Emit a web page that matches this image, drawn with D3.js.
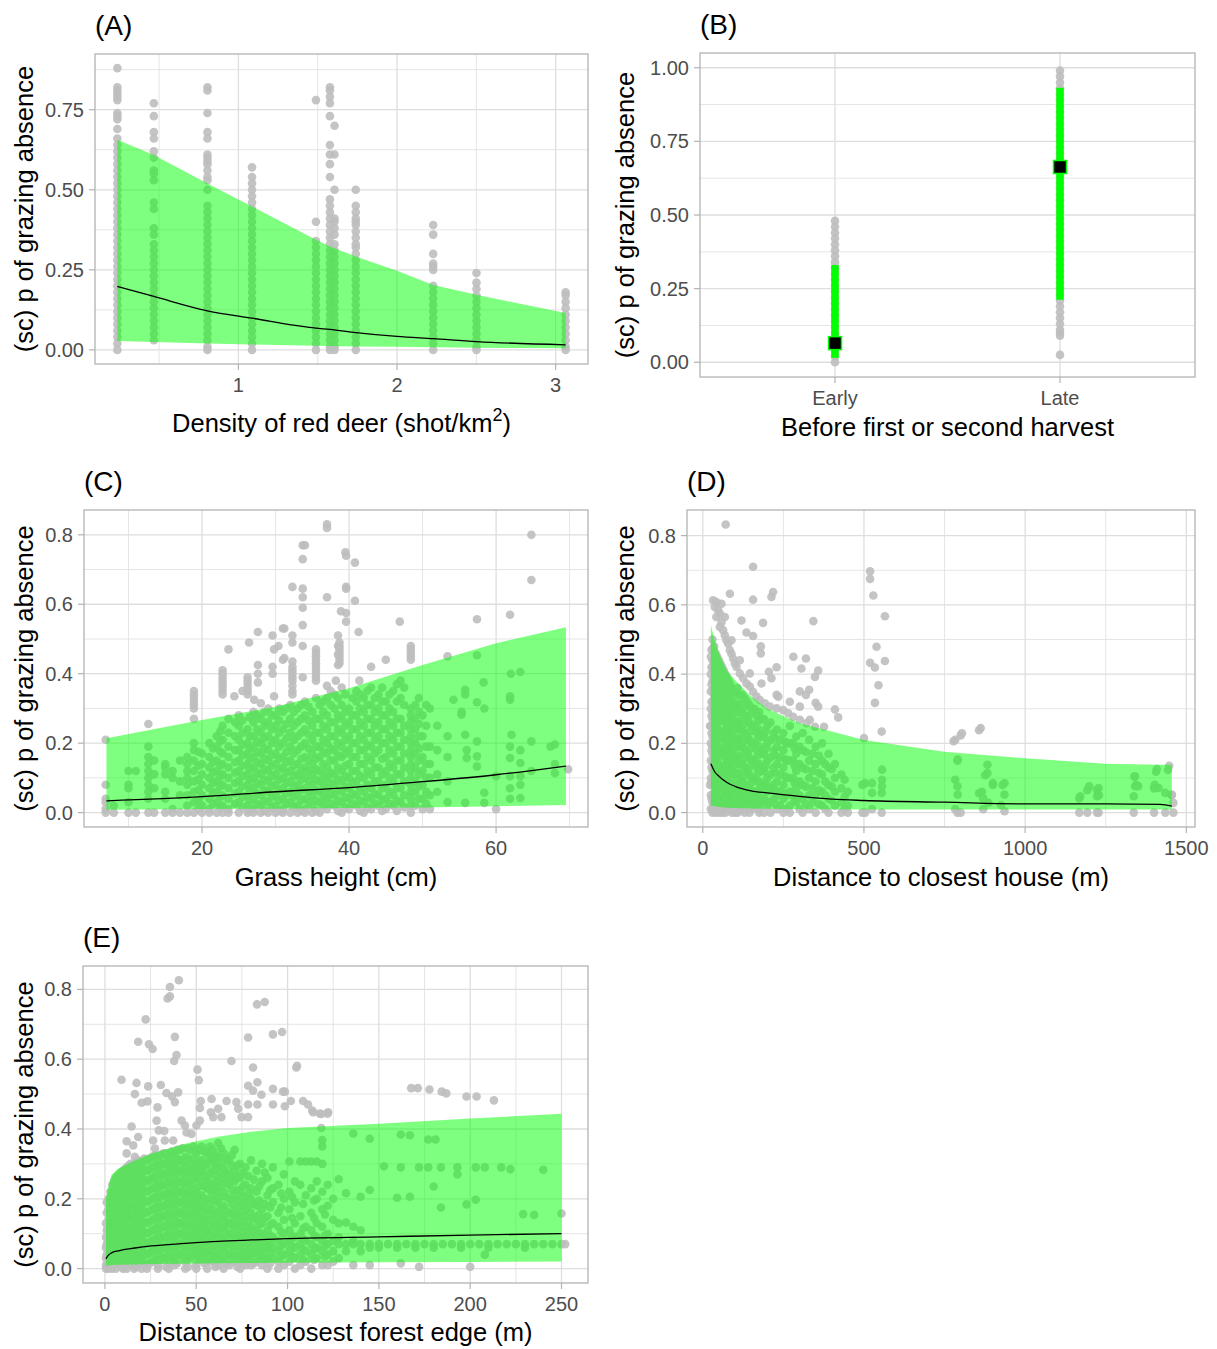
<!DOCTYPE html>
<html>
<head>
<meta charset="utf-8">
<script src="https://cdn.jsdelivr.net/npm/d3@7/dist/d3.min.js"></script>
<style>
  body { margin: 0; background: #fff; }
  svg { display: block; font-family: "Liberation Sans", Arial, sans-serif; }
</style>
</head>
<body>
<svg id="chart" width="1217" height="1349"></svg>
<script>
// ---- data (x : y-values in %, one token per x position) ----

// (A) density of red deer
const deerPts = "0.237:88,82,81,80,79,78,74,73,72,69,66,64,62,60,58,56,54,52,50,48,46,44,42,40,38,36,34,32,30,28,26,24,22,20,18,16,14,12,10,8,6,4,2,0 0.467:77,73,68,66,62,60,56,55,53,46,44,38,36,33,31,29,27,25,23,21,19,17,15,13,11,9,7,5,3 0.805:82,81,74,68,66,61,60,59,58,56,54,53,50,45,43,41,39,37,35,33,31,29,27,25,23,21,19,17,15,13,11,9,7,5,3,1,0 1.086:57,54,52,50,48,46,44,42,40,38,36,34,32,30,28,26,24,22,20,18,16,14,12,10,8,6,4,2,0 1.489:78,40,34,32,30,28,26,24,22,20,18,16,14,12,10,8,6,4,2,0 1.577:82,81,79,77,73,64,61,58,54,47,45,43,41,39,37,35,33,31,29,27,25,23,21,19,17,15,13,11,9,7,5,3,1,0 1.606:70,61,50,41,40,38,36,33,31,29,27,25,23,21,19,17,15,13,11,9,7,5,3,1,0 1.74:50,45,43,41,40,39,37,35,33,32,30,28,26,24,22,20,18,16,14,12,10,8,6,4,2,0 2.228:39,36,30,27,26,25,20,18,16,14,12,10,8,6,4,2,0 2.501:24,21,19,17,15,13,11,9,7,5,3,1,0 3.063:18,17,15,13,11,9,7,5,3,1,0";
const deerX   = [0.237, 0.467, 0.805, 1.086, 1.489, 1.577, 1.74, 2.0, 2.228, 2.501, 3.063];
const deerFit = [0.198, 0.167, 0.122, 0.099, 0.068, 0.064, 0.054, 0.042, 0.035, 0.026, 0.016];
const deerLo  = [0.028, 0.025, 0.020, 0.017, 0.013, 0.012, 0.011, 0.010, 0.008, 0.007, 0.005];
const deerHi  = [0.656, 0.609, 0.520, 0.448, 0.344, 0.323, 0.292, 0.247, 0.203, 0.172, 0.115];

// (B) before first or second harvest
const harvestCats = ["Early", "Late"];
const harvestPts = "Early:0,2,4,6,8,10,12,14,16,18,20,22,24,26,28,30,32,34,36,38,40,42,44,46,48 Late:2.5,9,10,11,13,15,17,19,21,23,25,27,29,31,33,35,37,39,41,43,45,47,49,51,53,55,57,59,61,63,65,67,69,71,73,75,77,79,81,83,85,87,89,91,93,95,97,99";
const harvestFit = [0.065, 0.663];
const harvestLo  = [0.015, 0.212];
const harvestHi  = [0.330, 0.932];

// (C) grass height
const grassPts = "6.9:21,8,4,3,1,0 8:2,0 10:12,8,7,3,0 11:12,0 12.7:25.5,19,16,14,12,10,8,6,4,0 13.5:15,11,7,0 15:14,13,11,6,4,0 16:12,10,1,0 17:15,9,5,0 18:16,14,12,10,8,5,2,0 18.9:35,34,33,32,31,30,27,20,18,15,12,9,6,3,0 20:17,14,11,8,5,2,0 21:20,16,13,10,7,4,1,0 22:22,19,15,12,9,6,3,0 22.8:41,40,39,38,37,36,35,34,25,21,17,14,11,8,5,2,0 23.6:47,27,23,19,16,13,10,7,4,1,0 24.4:33.5 25:28,25,21,18,15,12,9,6,3,0 25.5:35 26.2:39,38,37,36,35,34,24,20,17,14,11,8,5,2,0 26.4:49 27:29,26,22,19,16,13,10,7,4,1,0 27.6:52,42.5,40,37.5 27.1:32.5 28:31.5,27,23,20,17,14,11,8,5,2,0 29:30,26,22,18,15,12,9,6,3,0 29.6:51,42,40 29.8:47,33.5 30:28,25,21,17,14,11,8,5,2,0 30.4:48 31:53,44,29,24,20,16,13,10,7,4,1,0 31.2:53,44.5 32:31,27,23,19,15,12,9,6,3,0 32.3:65,51,49,43.5,42,41,40,39,38,36.5,35,34 33:30,26,22,18,14,11,8,5,2,0 33.7:77,73,64.5,62,59,54,48,39 34:77,32,28,24,20,16,13,10,7,4,1,0 35:29,25,21,17,14,11,8,5,2,0 35.5:47,46,45,44,43,42,41,40,39,38 36:31,27,23,19,16,12,9,6,3,0 37:83,82,62,36.5,33,28,24,20,17,13,10,7,4,1 38:34,30,26,22,18,15,11,8,5,2 38.2:38 38.5:51,48,45.5,42.5 38.7:49,48,47,46,45,44,43 38.9:58 39:36,31,27,23,19,16,12,9,6,3,0 39.5:75 39.6:74,65,64.5,57.5,55 40:30,26,22,18,14,10,7,4,1 40.8:72,61 41:35,32,28,24,20,16,12,9,5,2 41.3:52 41.4:38 42:33,29,25,21,18,14,10,6,3,0 43:42,36,31,27,23,19,15,11,7,4,1 44:34,30,26,22,18,13,9,5,2 45:44,32,28,24,20,16,12,8,4,1 46:35,29,25,21,17,13,9,5,2 46.9:55 47:38,33,27,23,19,15,11,7,3 48.4:48,47,46,45,44,30,28,26,24,22,20,18,16,14,12,10,8,6,4,2,0 49:31,27,24,20,17,13,9,6,2 50:28,22,16,12,8,4,1 51:30,19,14,10,5,1 52:25,18,11,6 53.4:45,22,16,9,3 54.2:32.5 55.3:28.2,29 55.8:35.4,34,22.4,2.8 56:18,15.7 57.4:55.7,45.3,31.8,20.5,16.2,13.3 58.3:37.5 58.4:30,5.7,2.8 60:10.5,1 61.9:57,33.5,32.5,19,15.7,10.5,7,4 62:40 62.1:22.4 63.3:40.5,18,14.3,10.5,8,4.2 64.8:80,67,20.5,12 67.4:19 68:19.6,14,11.4 69.8:12.5 " +
  "19.5:17.5,13.5,9.5,6.5,3.5,1 21.5:18.5,14.5,11.5,8.5,5.5,2.5 22.5:23.5,20.5,17.5,13.5,10.5,7.5,4.5,1.5 24.5:26,22,18,14.5,11.5,8.5,5.5,2.5 25.5:26.5,23,19.5,16.5,13.5,10.5,7.5,4.5,1.5 26.5:27.5,22,18.5,15.5,12.5,9.5,6.5,3.5,0.5 27.5:28,24,20.5,17.5,14.5,11.5,8.5,5.5,2.5 28.5:29,25,21.5,18.5,15.5,12.5,9.5,6.5,3.5,0.5 29.5:28,24,20,16.5,13.5,10.5,7.5,4.5,1.5 30.5:30,26.5,23,19,15.5,12.5,9.5,6.5,3.5,0.5 31.5:30,25.5,21.5,17.5,14.5,11.5,8.5,5.5,2.5 32.5:29,25,21,17,13.5,10.5,7.5,4.5,1.5 33.5:31,27,23,19,15.5,12,9.5,6.5,3.5,0.5 34.5:30.5,26.5,22.5,18.5,15,12,9,6,3 35.5:33,27,23,19,15.5,12.5,9.5,6.5,3.5,0.5 36.5:32,29,25,21,17.5,14,11,8,5,2 37.5:35,31,26,22,18.5,15,11.5,8.5,5.5,2.5 38.5:33,28,24,20,16.5,13,9.5,6.5,3.5,0.5 39.5:34,29,25,21,17,13.5,10.5,7.5,4.5,1.5 40.5:33,28,24,20,16,12,8.5,5.5,2.5 41.5:34,30,26,22,18,14,10.5,7,3.5,0.5 42.5:35,31,27,23,19.5,16,12,8,4.5,1.5 43.5:33,29,25,21,17,13,9,5.5,2.5 44.5:36,32,28,24,20,15.5,11,7,3.5,0.5 45.5:34,30,26,22,18,14,10,6,2.5 46.5:37,32,27,23,19,15,11,7,3.5,0.5 47.5:36,31,25,21,17,13,9,5,1.5 49.5:33,29,25.5,22,18.5,15,11,7.5,4 50.5:31,25,19,14,10,6,2.5";
const grassX   = [7, 20, 30, 40, 50, 60, 69.5];
const grassFit = [0.034, 0.046, 0.060, 0.072, 0.089, 0.109, 0.134];
const grassLo  = [0.008, 0.010, 0.011, 0.013, 0.015, 0.018, 0.022];
const grassHi  = [0.214, 0.267, 0.305, 0.358, 0.425, 0.488, 0.534];

// (D) distance to closest house
const housePts = "22.6:25,8 25:45,40,35,30,25,20,15,10,5,1 30:50,44,38,32,27,22,17,12,8,3,0 32:61.3 37:59.4 40:46,41,36,31,26,21,16,11,6,2,0 42:60.8,56.5 47.6:58.4 50:44,39,34,29,24,19,14,9,4,0 52.8:57.5,53.6 58:55,60.3 60:42,37,32,28,23,18,13,8,3,0 63:52.7 68.3:51.2,56.5 70:40,35,30,26,21,16,11,6,2,0 71:83.2 73.5:49.8 78.7:48.8 80:38,33,28,24,19,14,9,5,1 84:63.2,46.9 89:45.9,49.8 90:36,31,27,22,17,12,7,3,0 94:44.5 99.4:43.1 100:35,30,25,20,15,11,6,2,0 104.6:42.1 115:40.2,44,34,29,24,19,14,9,5,1 120:55.5 125:38.8 130:33,28,23,18,13,8,4,0 135.6:37.3,52 145:31,26,21,16,11,7,3,0 146:36.4,40.2 156:71,61.5,34.9,51 160:30,25,20,15,10,6,2 166.7:33.5 175:29,24,19,14,9,5,1,0 177:32.5 180:48,46 182:37.3 187:54.8 190:27,22,17,12,8,4,0 192.5:31.6 205:40.7 208:30.6 210:26,21,16,11,7,3,0 213:62.3,38.8 218:63.7 229:42,30.1,34 230:24,19,14,9,5,1 234:33.5 249.5:29.6 250:23,18,13,8,4,0 265:28.7 270:25,20,15,10,6,2,0,32 280.5:27.7 281:45 290:22,17,12,7,3 301:26.8,30.6,35 306:41.6 310:23,18,13,8,4,0 320:44.5,34 322:25.8 330:21,15,10,5,1,35.5 332:26.8 343:55.3 348:24.8,39.2 350:19,14,9,5,0,31.7 358:41,30.6 370:20,15,11,6,2 376:24.8 390:17,13,8,4,0 410:14,10,6,2,29.8 420:27.5 430:11,7,3,0 450:6,2,0 495:8,0 500:21.5 504:8.5,0 519:69.7,67.5,43.3 525:8.5,5.7,1 529:62.7 534:41.9,31.7 539:47.9 545:36.8 555:23.4,5.7,0 556:12.4,9.5,7.6 565:56.7,43.8 778:20.6 783:21,9.5,1 790:15,7.6,0 791:15.4,5.2 800:22.3,0 804:22.9 857:23.8,5.6 862:24.4 866:6 870:4.1,1 876:10.8 883:13.8,11.4 886:2.8 900:8.5,8 925:2.2 930:8 936:8.5,5.2,0.4 1168:4.1,0 1171:4.7 1193:6.5,0 1199:7.6 1223:6.5,4.7,0 1228:7.1,0 1229:5 1337:4.7,0 1339:10.4 1341:10.5,7.6 1345:8 1351:7.6 1400:7,0 1402:8 1406:11.8 1409:12.6 1414:7.1 1435:5.7,0 1443:12.3 1447:13.5 1455:5,5.2 1460:2.8,0 " +
  "27:47,42,37,32,28,23,18,13,9,4 35:48,43,39,34,29,24,19,14,10,5,1 45:45,40,36,31,26,21,16,12,7,2 55:43,38,33,28,23,18,13,8,4,1 65:41,36,31,27,22,17,12,7,3 75:39,34,29,25,20,15,10,6,2 85:37,32,28,23,18,13,8,4,1 95:35,31,26,21,16,11,7,3 108:36,31,26,21,16,11,7,3,0 122:34,29,24,19,14,9,5,1 138:32,27,22,17,12,7,3 152:30,25,20,15,10,6,1 168:28,23,18,13,9,4 183:27,22,17,12,7,3 200:25,20,15,10,6,2 220:23,18,13,8,4 240:21,16,11,6,2 260:20,15,10,5,1 280:20,15,10,5 300:19,14,9,5,1 340:17,12,7,3 380:14,9,5,1 " +
  "33:47.5,41.5,35.5,29.5,24.5,19.5,14.5,9.5,5.5,1.5 43:44.5,38.5,33.5,28.5,23.5,18.5,13.5,8.5,3.5 53:41.5,36.5,31.5,26.5,21.5,16.5,11.5,6.5,1.5 67:38.5,33.5,28.5,23.5,18.5,13.5,8.5,4.5 82:36.5,30.5,25.5,21.5,16.5,11.5,6.5,2.5 97:33.5,28.5,23.5,18.5,13.5,8.5,4.5,0.5 112:31.5,26.5,21.5,16.5,11.5,6.5,2.5 128:30.5,25.5,20.5,15.5,10.5,5.5,1.5 148:28.5,23.5,18.5,13.5,8.5,4.5 172:26.5,21.5,16.5,11.5,6.5,2.5 195:23.5,18.5,13.5,8.5,3.5 225:21.5,16.5,11.5,6.5,2.5 255:20.5,15.5,10.5,5.5 285:18.5,13.5,8.5,3.5 320:17.5,12.5,7.5,2.5 360:16.5,11.5,6.5,2.5 400:12.5,7.5,3.5 440:9.5,4.5,1";
const houseX   = [25, 37, 50, 75, 100, 150, 200, 300, 400, 500, 750, 1000, 1250, 1420, 1455];
const houseFit = [0.141, 0.118, 0.105, 0.087, 0.076, 0.063, 0.057, 0.047, 0.039, 0.035, 0.030, 0.025, 0.025, 0.024, 0.019];
const houseLo  = [0.020, 0.018, 0.016, 0.014, 0.013, 0.012, 0.011, 0.010, 0.010, 0.009, 0.009, 0.009, 0.009, 0.009, 0.009];
const houseHi  = [0.541, 0.498, 0.460, 0.410, 0.383, 0.335, 0.300, 0.258, 0.234, 0.210, 0.176, 0.157, 0.141, 0.138, 0.138];

// (E) distance to closest forest edge
const forestPts = "0.6:13,9,6,3,1,0 2:20,17,14,11,8,5,2,0 4:24,21,18,15,12,9,6,3,0 6:26,23,20,17,14,11,8,5,2,0 8:27,24,21,18,15,12,9,6,3,1 9.1:54.1 10:28,25,22,19,16,13,10,7,4,1,0 11.9:36.5,33 12:29,26,23,20,17,14,11,8,5,2,0 14:30,27,24,21,18,15,12,9,6,3,1 14.6:40.7 15.5:35.3 16:29,26,23,20,17,14,11,8,5,2,0 16.4:50,32 17.3:53.2 18:31,28,25,22,19,16,13,10,7,4,1 18.2:65,37.7 20:30,27,24,21,18,15,12,9,6,3,0 20.1:47.5 22.3:71.4 23:31,28,25,22,19,16,13,10,7,4,1,0 23.3:47.9 23.7:52.2 24.1:64.3 26:32,29,26,23,20,17,14,11,8,5,2 26.1:62.9 26.4:36.7 27.4:34.4 28.3:42.4 28.8:46.2 29:31,28,25,22,19,16,13,10,7,4,1,0 29.5:39.6 30.6:52.6 32:33,30,27,24,21,18,15,12,9,6,3 32.5:39.4 32.8:36.7 33.7:50.3 34.3:77.4 35:32,29,26,23,20,17,14,11,8,5,2,0 35.6:80.7,78 36.8:49.3 37.4:36.7 37.9:59.5 38:33,30,27,24,21,18,15,12,9,6,3,1 38.3:66.4,47.7 39.2:61.2 40.1:50.5 40.5:82.6 41:34,31,28,25,22,19,16,13,10,7,4 42:42.4 43.8:41 44:32,29,26,23,20,17,14,11,8,5,2,0 44.7:39 47:34,30,27,24,21,18,15,12,9,6,3 47.4:38.6 50:33,29,26,22,19,16,13,10,7,4,1,0 50.1:41 50.7:57 51.4:54 52:42.4,46 52.5:48 53:35,31,28,25,21,18,15,12,9,6,3 56:33,30,26,23,20,17,14,11,8,5,2,0 58:44.8 58.4:48.6 59:34,31,28,24,21,17,14,11,8,5,2 59.3:43.4 62:36,32,29,25,22,19,16,13,10,7,4,1,45.8 63.8:43.4 65:33,29,26,22,18,15,12,9,6,3,0 66.6:48 68:31,27,24,20,16,13,10,7,4,1 69.3:59.5 71:34,28,25,21,17,14,11,8,5,2 72:47.7 73:45.8 74:30,26,22,18,15,12,9,6,3,0 74.8:43.4 77:29,24,19,15,12,9,6,3,1 78.4:66.2,52.4,47,43.4 80:31,23,20,16,12,9,6,4,1 81.1:57.6,51 83:28,22,18,14,11,8,5,2 83.3:75.7 83.5:53.4,47 85.7:49.8 86:30,25,17,13,10,7,4,1 87.5:76.4 89:26,21,15,11,8,6,3,0 92:67.1,51.5,47,29,23,19,13,9,6,3 95:24,16,12,8,5,2,0 97:67.8 97.5:50.7 98:27,20,14,10,7,4,1 98.5:50.7,46.5 101:30.7,22,17,11,8,5,2 101.8:48 104:25,19,13,9,6,3,0 104.8:57.6 105.2:58.1 107:30.7,24,15,10,7,4,1 108.5:48 110:30.7,21,12,8,5,2 111.2:47 113:30.7,23,16,11,7,4,0 113.5:45.3 114:44.8 116:30.7,25,20,13,9,6,3 117.7:44.4 118.5:44.3,40.3 119:36.8,35,30,22,17,12,8,5,1 121.9:44.4 122:24,18,10,7,4,1 122.2:44.8 125:20,14,8,5,2 128:25.6,13,9,7,3 132:21.6,13.2,7,5 136:38.7,12,8,7,1 140:20.6,11,7,5 145:37.2,22.5,7,6,1 150:7,6 152.8:29.3 155:7 160:7,6,20.3 162:38.4,29,1.5 165:7 167:38.2,20.6 167.7:51.7 170:7,6 171.3:51.7 172:29,0.5 175:7 177:37,29 177.7:51.3 180:7,6,23.5 181:37 184:29,17.5 184.4:50.7 185:7 186.9:50.2 190:7 193:29,27 195:7,6 198:18.4,49.3 200:7,0.5 203:29,19.7 203.5:49.3 205:7 208:29,4 210:7,6 213:48.2 215:7 217:29 220:7 222:28.5 225:7 229:15.6 230:7,6 235:7,15.4 240:7,28.3 245:7 250:7,15.8 252:7 " +
  "1:19,16,11,7,4 3:22,19,16,13,10,7,4,1 5:25,22,19,16,13,10,7,4,1 7:26.5,23.5,20.5,17.5,14.5,11.5,8.5,5.5,2.5 9:27.5,24.5,21.5,18.5,15.5,12.5,9.5,6.5,3.5,0.5 11:28.5,25.5,22.5,19.5,16.5,13.5,10.5,7.5,4.5,1.5 13:29.5,26.5,23.5,20.5,17.5,14.5,11.5,8.5,5.5,2.5 15:29.5,26.5,23.5,20.5,17.5,14.5,11.5,8.5,5.5,2.5 17:30.5,27.5,24.5,21.5,18.5,15.5,12.5,9.5,6.5,3.5,0.5 19:30.5,27.5,24.5,21.5,18.5,15.5,12.5,9.5,6.5,3.5 21.5:31.5,28.5,25.5,22.5,19.5,16.5,13.5,10.5,7.5,4.5,1.5 24.5:31.5,28.5,25.5,22.5,19.5,16.5,13.5,10.5,7.5,4.5,1.5 27.5:32.5,29.5,26.5,23.5,20.5,17.5,14.5,11.5,8.5,5.5,2.5 30.5:32.5,29.5,26.5,23.5,20.5,17.5,14.5,11.5,8.5,5.5,2.5 33.5:33,30.5,27.5,24.5,21.5,18.5,15.5,12.5,9.5,6.5,3.5,0.5 36.5:33.5,30.5,27.5,24.5,21.5,18.5,15.5,12.5,9.5,6.5,3.5 39.5:34,31.5,28.5,25.5,22.5,19.5,16.5,13.5,10.5,7.5,4.5,1.5 42.5:34.5,30.5,27.5,24.5,21.5,18.5,15.5,12.5,9.5,6.5,3.5 45.5:34.5,31.5,27.5,24.5,21.5,18.5,15.5,12.5,9.5,6.5,3.5,0.5 48.5:35,31.5,28.5,25.5,22.5,19.5,16.5,13.5,10.5,7.5,4.5 51.5:34,30.5,27.5,23.5,20.5,17.5,14.5,11.5,8.5,5.5,2.5 54.5:33.5,29.5,26.5,23.5,19.5,16.5,13.5,10.5,7.5,4.5,1.5 57.5:35,31.5,27.5,24.5,22.5,18.5,15.5,12.5,9.5,6.5,3.5 60.5:32.5,29.5,26.5,23,19.5,15.5,12.5,9.5,6.5,3.5,0.5 63.5:34.5,30.5,27.5,23.5,20.5,17.5,14.5,11.5,8.5,5.5,2.5 66.5:31.5,27.5,24.5,20.5,16.5,13.5,10.5,7.5,4.5,1.5 69.5:32.5,29.5,25.5,22.5,18.5,15.5,12.5,9.5,6.5,3.5 72.5:29.5,26.5,22.5,19.5,15.5,12.5,9.5,6.5,3.5,0.5 75.5:27.5,23.5,20.5,16.5,13.5,10.5,7.5,4.5,1.5 78.5:26.5,21.5,17.5,13.5,10.5,7.5,4.5,2.5 81.5:25.5,18.5,14.5,10.5,7.5,4.5,1.5 84.5:23.5,19.5,15.5,12.5,9.5,6.5,3.5 87.5:27.5,18.5,14.5,9.5,5.5,2.5 90.5:22.5,17.5,12.5,9.5,7.5,4.5,1.5 96.5:21.5,17.5,10.5,6.5,3.5 102.5:20.5,14.5,9.5,6.5,3.5 108.5:18.5,11.5,8.5,5.5,2.5 114.5:19.5,14.5,9.5,5.5,2.5 120.5:15.5,9.5,6.5,3.5";
const forestX   = [0.6, 1.5, 3.6, 7.3, 16.4, 25.5, 43.8, 62, 80, 100, 150, 200, 250];
const forestFit = [0.028, 0.036, 0.045, 0.051, 0.059, 0.065, 0.072, 0.078, 0.082, 0.086, 0.091, 0.096, 0.100];
const forestLo  = [0.008, 0.009, 0.010, 0.011, 0.012, 0.013, 0.014, 0.015, 0.016, 0.017, 0.018, 0.019, 0.020];
const forestHi  = [0.200, 0.225, 0.268, 0.287, 0.310, 0.330, 0.358, 0.378, 0.392, 0.403, 0.415, 0.430, 0.444];

// ---- helpers ----
function parsePts(s, numericX = true) {
  const out = [];
  s.trim().split(/\s+/).forEach(tok => {
    const [xs, ys] = tok.split(":");
    ys.split(",").forEach(v => out.push({ x: numericX ? +xs : xs, y: +v / 100 }));
  });
  return out;
}
function band(xs, fit, lo, hi) {
  return xs.map((x, i) => ({ x, fit: fit[i], lo: lo[i], hi: hi[i] }));
}

const svg = d3.select("#chart");
const GRID = "#dedede", BORDER = "#b3b3b3", TICKTXT = "#4d4d4d";
const POINT = "#bebebe", RIBBON = "#00ff00";
const R = 4.3;

function frame(o) {
  const g = svg.append("g");
  const x = o.x, y = o.y;
  const [l, r] = o.xr, [b, t] = y.range();

  g.append("rect").attr("x", l).attr("y", t).attr("width", r - l).attr("height", b - t).attr("fill", "#fff");

  // minor then major grid
  g.selectAll(".ymin").data(o.yMinor).join("line")
    .attr("x1", l).attr("x2", r).attr("y1", d => y(d)).attr("y2", d => y(d))
    .attr("stroke", GRID).attr("stroke-width", 0.8);
  g.selectAll(".xmin").data(o.xMinor).join("line")
    .attr("y1", t).attr("y2", b).attr("x1", d => x(d)).attr("x2", d => x(d))
    .attr("stroke", GRID).attr("stroke-width", 0.8);
  g.selectAll(".ymaj").data(o.yTicks).join("line")
    .attr("x1", l).attr("x2", r).attr("y1", d => y(d)).attr("y2", d => y(d))
    .attr("stroke", GRID).attr("stroke-width", 1.3);
  g.selectAll(".xmaj").data(o.xTicks).join("line")
    .attr("y1", t).attr("y2", b).attr("x1", d => x(d)).attr("x2", d => x(d))
    .attr("stroke", GRID).attr("stroke-width", 1.3);

  const marks = g.append("g");

  const over = g.append("g");
  over.append("rect").attr("x", l).attr("y", t).attr("width", r - l).attr("height", b - t)
    .attr("fill", "none").attr("stroke", BORDER).attr("stroke-width", 1.3);

  // ticks
  over.selectAll(".yt").data(o.yTicks).join("line")
    .attr("x1", l - 6).attr("x2", l).attr("y1", d => y(d)).attr("y2", d => y(d))
    .attr("stroke", BORDER).attr("stroke-width", 1.2);
  over.selectAll(".xt").data(o.xTicks).join("line")
    .attr("y1", b).attr("y2", b + 6).attr("x1", d => x(d)).attr("x2", d => x(d))
    .attr("stroke", BORDER).attr("stroke-width", 1.2);

  over.selectAll(".ytl").data(o.yTicks).join("text")
    .attr("x", l - 11).attr("y", d => y(d) + 7)
    .attr("text-anchor", "end").attr("font-size", 20).attr("fill", TICKTXT)
    .text(o.yFmt);
  over.selectAll(".xtl").data(o.xTicks).join("text")
    .attr("x", d => x(d)).attr("y", b + 28)
    .attr("text-anchor", "middle").attr("font-size", 20).attr("fill", TICKTXT)
    .text(o.xFmt);

  // titles
  const xt = over.append("text")
    .attr("x", (l + r) / 2).attr("y", b + (o.titleGap || 59))
    .attr("text-anchor", "middle").attr("font-size", 25.5).attr("fill", "#000");
  if (o.xTitleSup) {
    xt.append("tspan").text(o.xTitle);
    xt.append("tspan").attr("font-size", 18).attr("dy", -11).text(o.xTitleSup);
    xt.append("tspan").attr("dy", 11).text(o.xTitleEnd);
  } else {
    xt.text(o.xTitle);
  }
  over.append("text")
    .attr("transform", `translate(${o.yTitleX},${(t + b) / 2}) rotate(-90)`)
    .attr("text-anchor", "middle").attr("font-size", 25.5).attr("fill", "#000")
    .text("(sc) p of grazing absence");

  over.append("text").attr("x", l).attr("y", t - 19)
    .attr("font-size", 28).attr("fill", "#000").text(o.tag);

  return marks;
}

function scatterPanel(o, pts, rib) {
  const marks = frame(o);
  const x = o.x, y = o.y;
  marks.selectAll("circle").data(pts).join("circle")
    .attr("cx", d => x(d.x)).attr("cy", d => y(d.y)).attr("r", R)
    .attr("fill", POINT).attr("fill-opacity", 0.9);
  marks.append("path").datum(rib)
    .attr("d", d3.area().x(d => x(d.x)).y0(d => y(d.lo)).y1(d => y(d.hi)))
    .attr("fill", RIBBON).attr("fill-opacity", 0.5);
  marks.append("path").datum(rib)
    .attr("d", d3.line().x(d => x(d.x)).y(d => y(d.fit)).curve(d3.curveMonotoneX))
    .attr("fill", "none").attr("stroke", "#000").attr("stroke-width", 1.3);
}

const fmt2 = d3.format(".2f"), fmt1 = d3.format(".1f");

// (A)
scatterPanel({
  x: d3.scaleLinear().domain([0.096, 3.204]).range([95, 588]), xr: [95, 588],
  y: d3.scaleLinear().domain([-0.044, 0.924]).range([364, 54]),
  xTicks: [1, 2, 3], xMinor: [0.5, 1.5, 2.5], xFmt: d3.format("d"),
  yTicks: [0, 0.25, 0.5, 0.75], yMinor: [0.125, 0.375, 0.625, 0.875], yFmt: fmt2,
  xTitle: "Density of red deer (shot/km", xTitleSup: "2", xTitleEnd: ")", titleGap: 68,
  yTitleX: 33, tag: "(A)"
}, parsePts(deerPts), band(deerX, deerFit, deerLo, deerHi));

// (B)
{
  const x = d3.scalePoint().domain(harvestCats).range([700, 1195]).padding(0.6);
  const y = d3.scaleLinear().domain([-0.05, 1.05]).range([377, 53]);
  const marks = frame({
    x, y, xr: [700, 1195],
    xTicks: harvestCats, xMinor: [], xFmt: d => d,
    yTicks: [0, 0.25, 0.5, 0.75, 1], yMinor: [0.125, 0.375, 0.625, 0.875], yFmt: fmt2,
    xTitle: "Before first or second harvest", yTitleX: 634, tag: "(B)"
  });
  marks.selectAll("circle").data(parsePts(harvestPts, false)).join("circle")
    .attr("cx", d => x(d.x)).attr("cy", d => y(d.y)).attr("r", R)
    .attr("fill", POINT).attr("fill-opacity", 0.9);
  const summ = harvestCats.map((c, i) => ({ c, fit: harvestFit[i], lo: harvestLo[i], hi: harvestHi[i] }));
  marks.selectAll(".rng").data(summ).join("line")
    .attr("x1", d => x(d.c)).attr("x2", d => x(d.c))
    .attr("y1", d => y(d.lo)).attr("y2", d => y(d.hi))
    .attr("stroke", RIBBON).attr("stroke-width", 7.5);
  marks.selectAll(".pt").data(summ).join("rect")
    .attr("x", d => x(d.c) - 6.5).attr("y", d => y(d.fit) - 6.5)
    .attr("width", 13).attr("height", 13)
    .attr("fill", "#000").attr("stroke", RIBBON).attr("stroke-width", 1.5);
}

// (C)
scatterPanel({
  x: d3.scaleLinear().domain([3.95, 72.5]).range([84, 588]), xr: [84, 588],
  y: d3.scaleLinear().domain([-0.0415, 0.8715]).range([827, 510]),
  xTicks: [20, 40, 60], xMinor: [10, 30, 50, 70], xFmt: d3.format("d"),
  yTicks: [0, 0.2, 0.4, 0.6, 0.8], yMinor: [0.1, 0.3, 0.5, 0.7], yFmt: fmt1,
  xTitle: "Grass height (cm)", yTitleX: 33, tag: "(C)"
}, parsePts(grassPts), band(grassX, grassFit, grassLo, grassHi));

// (D)
scatterPanel({
  x: d3.scaleLinear().domain([-49, 1527]).range([687, 1195]), xr: [687, 1195],
  y: d3.scaleLinear().domain([-0.0416, 0.874]).range([827, 510]),
  xTicks: [0, 500, 1000, 1500], xMinor: [250, 750, 1250], xFmt: d3.format("d"),
  yTicks: [0, 0.2, 0.4, 0.6, 0.8], yMinor: [0.1, 0.3, 0.5, 0.7], yFmt: fmt1,
  xTitle: "Distance to closest house (m)", yTitleX: 634, tag: "(D)"
}, parsePts(housePts), band(houseX, houseFit, houseLo, houseHi));

// (E)
scatterPanel({
  x: d3.scaleLinear().domain([-12, 264.5]).range([83, 588]), xr: [83, 588],
  y: d3.scaleLinear().domain([-0.0413, 0.867]).range([1283, 966]),
  xTicks: [0, 50, 100, 150, 200, 250], xMinor: [25, 75, 125, 175, 225], xFmt: d3.format("d"),
  yTicks: [0, 0.2, 0.4, 0.6, 0.8], yMinor: [0.1, 0.3, 0.5, 0.7], yFmt: fmt1,
  xTitle: "Distance to closest forest edge (m)", titleGap: 58, yTitleX: 33, tag: "(E)"
}, parsePts(forestPts), band(forestX, forestFit, forestLo, forestHi));
</script>
</body>
</html>
